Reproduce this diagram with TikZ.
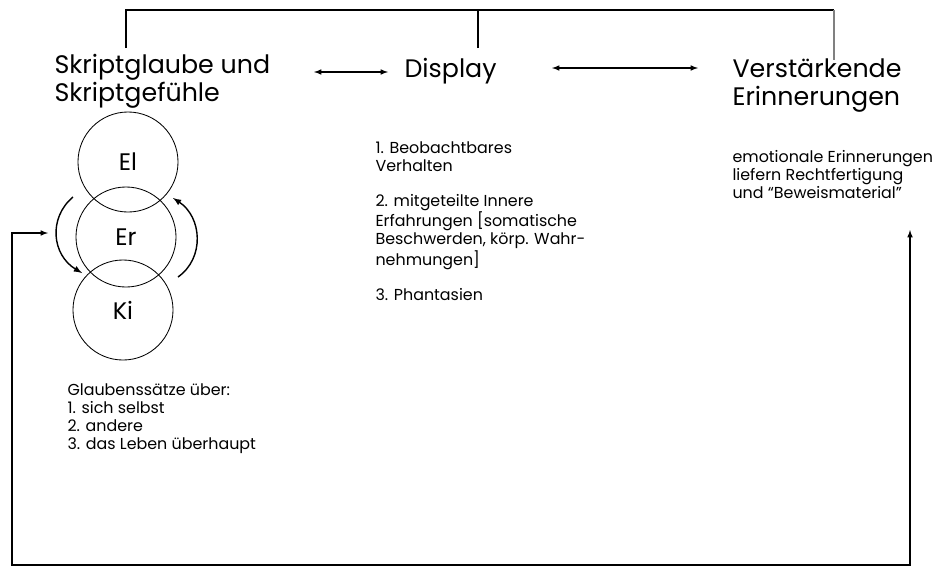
\documentclass[tikz,border=0pt]{standalone}
\usepackage{fontspec}
\setmainfont{Poppins}
\usepackage{tikz}
\tikzset{>=latex}
\usetikzlibrary{calc}

\begin{document}
\begin{tikzpicture}[x=0.025cm, y=-0.025cm, line width=0.8pt,
    head/.style={inner sep=0, anchor=base west, align=left, font=\fontsize{18}{19.9}\selectfont},
    small/.style={inner sep=0, anchor=base west, align=left, font=\fontsize{11.3}{12.8}\selectfont},
    ring/.style={circle, draw, line width=0.6pt, minimum size=2.5cm, inner sep=0, font=\fontsize{17}{17}\selectfont}]
  \useasboundingbox (0, 0) rectangle (941, 567);
  \node[head] (skript) at (54, 101) {Skriptglaube und\\Skriptgefühle};
  \node[head] (display) at (404, 77) {Display};
  \node[head] (erinn) at (732, 105) {Verstärkende\\Erinnerungen};
  \node[ring] (el) at (128, 162) {El};
  \node[ring] (er) at (126, 237) {Er};
  \node[ring] (ki) at (123, 310) {Ki};
  \node[small] (verhalten) at (375, 300) {1. Beobachtbares\\Verhalten\\[12pt]2. mitgeteilte Innere\\Erfahrungen [somatische\\Beschwerden, körp. Wahr-\\nehmungen]\\[12pt]3. Phantasien};
  \node[small] (beweis) at (732, 198) {emotionale Erinnerungen\\liefern Rechtfertigung\\und “Beweismaterial”};
  \node[small] (glaube) at (67, 449) {Glaubenssätze über:\\1. sich selbst\\2. andere\\3. das Leben überhaupt};
  \coordinate (topl) at (126, 48);
  \coordinate (topm) at (478, 48);
  \coordinate (topr) at (834, 60);
  \draw (topl) -- (126, 10) -- (834, 10);
  \draw (topm) -- (478, 10);
  \draw[gray] (834, 10) -- (topr);
  \draw[<->] (314, 72) -- (388, 72);
  \draw[<->] (552, 68) -- (698, 68);
  \draw[->, line width=1pt] (73, 197) .. controls (48, 218) and (52, 255) .. (82, 273);
  \draw[->, line width=1pt] (178, 277) .. controls (205, 258) and (202, 217) .. (173, 198);
  \coordinate (fbin) at (48, 233);
  \coordinate (fbout) at (910, 230);
  \draw[<->] (fbin) -- (12, 233) -- (12, 565) -- (910, 565) -- (fbout);
\end{tikzpicture}
\end{document}
